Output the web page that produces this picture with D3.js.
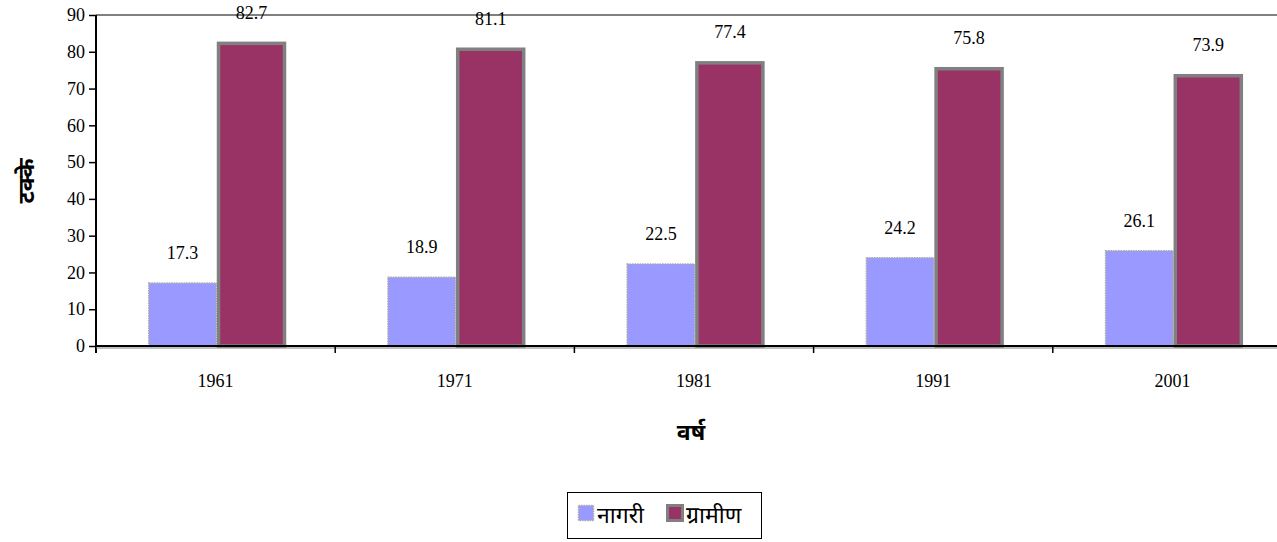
<!DOCTYPE html>
<html lang="mr">
<head>
    <meta charset="utf-8">
    <title>नागरी व ग्रामीण लोकसंख्या</title>
    <style type="text/css">
        body { margin: 0; background: #fff; }
        .chart text.num { font-family: "Liberation Serif", "Times New Roman", serif; font-size: 18px; fill: #000; }
        .chart .axis text { font-family: "Liberation Serif", "Times New Roman", serif; font-size: 18px; fill: #000; }
        .chart .title { font-family: "Noto Sans", "Lato", sans-serif; font-size: 23px; font-weight: bold; fill: #000; }
        .chart .leg { font-family: "Noto Sans", "Lato", sans-serif; font-size: 23px; fill: #000; }
    </style>
</head>
<body>
<svg class="chart" width="1277" height="542"></svg>

<script src="https://d3js.org/d3.v7.min.js"></script>
<script>
    // data
    var years = ['1961', '1971', '1981', '1991', '2001'];
    var seriesNames = ['नागरी', 'ग्रामीण'];
    var nagari = [17.3, 18.9, 22.5, 24.2, 26.1];
    var gramin = [82.7, 81.1, 77.4, 75.8, 73.9];
    var yTicks = [0, 10, 20, 30, 40, 50, 60, 70, 80, 90];

    var svg = d3.select('.chart');
    var plotL = 96, plotT = 15, plotB = 346, bandW = 239.2;

    var x = d3.scaleBand().domain(years).range([plotL, plotL + bandW * years.length]);
    var x1 = d3.scaleBand().domain(seriesNames).range([52, 52 + 138]);
    var y = d3.scaleLinear().domain([0, 90]).range([plotB, plotT]);

    var fills = ['#9999ff', '#993366'];

    // top frame line
    svg.append('line')
        .attr('x1', plotL).attr('x2', 1277)
        .attr('y1', y(90)).attr('y2', y(90))
        .attr('stroke', '#808080').attr('stroke-width', 2);

    // bars
    var groups = svg.selectAll('g.grp')
        .data(years)
        .enter().append('g')
        .attr('class', 'grp')
        .attr('transform', function(d) { return 'translate(' + x(d) + ',0)'; });

    groups.each(function(yr, i) {
        var g = d3.select(this);
        var vals = [nagari[i], gramin[i]];
        vals.forEach(function(v, s) {
            var bx = x1(seriesNames[s]), bw = x1.bandwidth();
            if (s === 0) {
                g.append('rect')
                    .attr('x', bx + 0.75).attr('y', y(v) + 0.75)
                    .attr('width', bw - 1.5).attr('height', y(0) - y(v) - 0.75)
                    .attr('fill', fills[0])
                    .attr('stroke', '#aaaaaa').attr('stroke-width', 1.5)
                    .attr('stroke-dasharray', '1.5,1');
            } else {
                g.append('rect')
                    .attr('x', bx + 1.5).attr('y', y(v) + 1.5)
                    .attr('width', bw - 3).attr('height', y(0) - y(v) - 1.5)
                    .attr('fill', fills[1])
                    .attr('stroke', '#808080').attr('stroke-width', 3.5);
            }
            g.append('text')
                .attr('class', 'num')
                .attr('x', bx + bw / 2)
                .attr('y', y(v) - 23)
                .attr('text-anchor', 'middle')
                .text(v.toFixed(1));
        });
    });

    // y axis
    var yAxis = d3.axisLeft(y).tickValues(yTicks).tickSize(7).tickPadding(4);
    var gy = svg.append('g').attr('class', 'axis')
        .attr('transform', 'translate(' + plotL + ',0)')
        .call(yAxis);
    gy.select('.domain').remove();
    gy.selectAll('.tick line').attr('stroke', '#000').attr('stroke-width', 1.5);
    svg.append('line')
        .attr('x1', plotL).attr('x2', plotL)
        .attr('y1', y(90)).attr('y2', plotB + 7)
        .attr('stroke', '#000').attr('stroke-width', 2);

    // x axis
    var xAxis = d3.axisBottom(x).tickSize(0).tickPadding(28);
    var gx = svg.append('g').attr('class', 'axis')
        .attr('transform', 'translate(0,' + plotB + ')')
        .call(xAxis);
    gx.select('.domain').remove();
    svg.append('line')
        .attr('x1', plotL).attr('x2', 1277)
        .attr('y1', plotB).attr('y2', plotB)
        .attr('stroke', '#000').attr('stroke-width', 2);
    svg.append('line')
        .attr('x1', plotL).attr('x2', 1277)
        .attr('y1', plotB + 2).attr('y2', plotB + 2)
        .attr('stroke', '#808080').attr('stroke-width', 1);
    svg.selectAll('line.xtick')
        .data(years.slice(1))
        .enter().append('line')
        .attr('class', 'xtick')
        .attr('x1', function(d) { return x(d); })
        .attr('x2', function(d) { return x(d); })
        .attr('y1', plotB).attr('y2', plotB + 7)
        .attr('stroke', '#000').attr('stroke-width', 1.5);

    // axis titles
    svg.append('text')
        .attr('class', 'title')
        .attr('transform', 'translate(34,181) rotate(-90)')
        .attr('text-anchor', 'middle')
        .text('टक्के');
    svg.append('text')
        .attr('class', 'title')
        .attr('x', 691).attr('y', 440)
        .attr('text-anchor', 'middle')
        .text('वर्ष');

    // legend
    var lg = svg.append('g').attr('transform', 'translate(567,492)');
    lg.append('rect')
        .attr('x', 0.5).attr('y', 0.5).attr('width', 194).attr('height', 46)
        .attr('fill', '#fff').attr('stroke', '#000').attr('stroke-width', 1);
    var legX = [10, 99];
    seriesNames.forEach(function(name, s) {
        lg.append('rect')
            .attr('x', legX[s] + 1.5).attr('y', 13.5)
            .attr('width', 15).attr('height', 15)
            .attr('fill', fills[s])
            .attr('stroke', s === 0 ? '#aaaaaa' : '#808080')
            .attr('stroke-width', s === 0 ? 1.5 : 3)
            .attr('stroke-dasharray', s === 0 ? '1.5,1' : null);
        lg.append('text')
            .attr('class', 'leg')
            .attr('x', legX[s] + 20).attr('y', 31)
            .text(name);
    });
</script>
</body>
</html>
